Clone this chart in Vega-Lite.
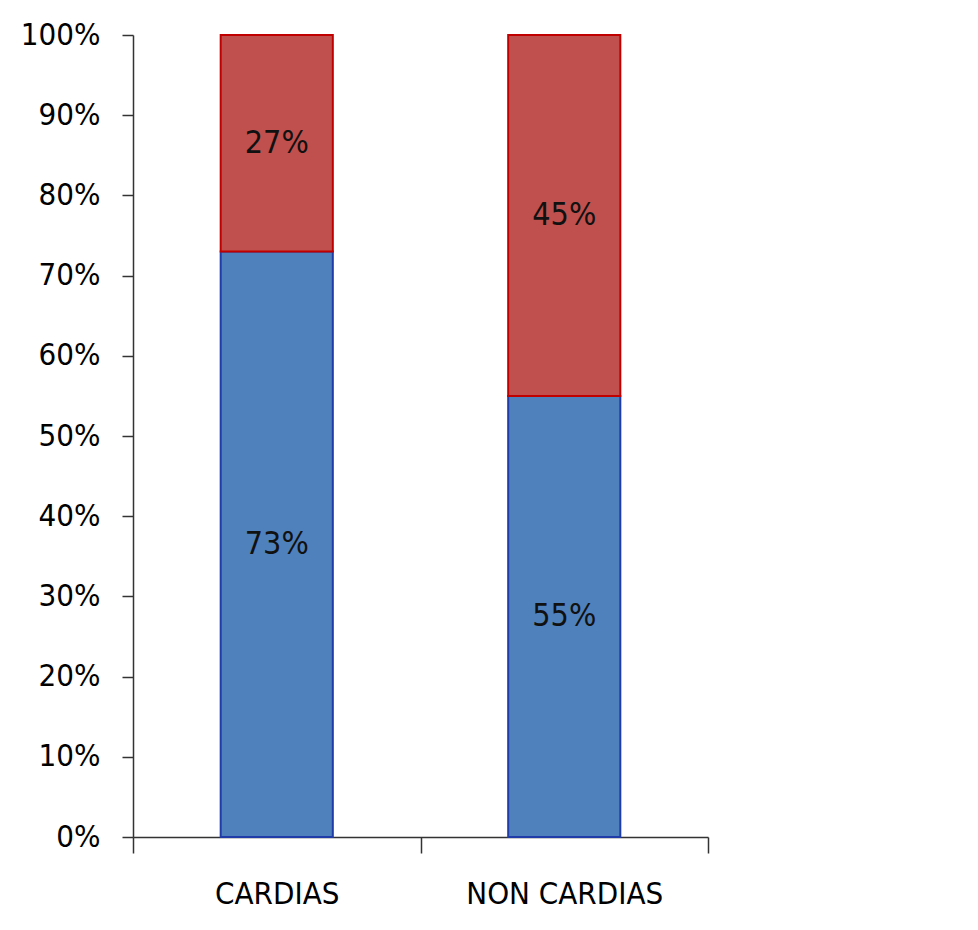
{
  "$schema": "https://vega.github.io/schema/vega-lite/v6.json",
  "autosize": {"type": "none"},
  "width": 575,
  "height": 802,
  "padding": {"left": 133, "top": 35, "right": 270, "bottom": 93},
  "background": "white",
  "config": {"view": {"stroke": null}, "font": "DejaVu Sans Condensed, Lato"},
  "data": {
    "values": [
      {"category": "CARDIAS", "series": "s1", "value": 73},
      {"category": "CARDIAS", "series": "s2", "value": 27},
      {"category": "NON CARDIAS", "series": "s1", "value": 55},
      {"category": "NON CARDIAS", "series": "s2", "value": 45}
    ]
  },
  "transform": [
    {"stack": "value", "groupby": ["category"], "sort": [{"field": "series", "order": "ascending"}], "as": ["v0", "v1"]},
    {"calculate": "(datum.v0 + datum.v1) / 2", "as": "mid"},
    {"calculate": "datum.value + '%'", "as": "label"}
  ],
  "encoding": {
    "x": {
      "field": "category",
      "type": "nominal",
      "sort": null,
      "scale": {"paddingInner": 0, "paddingOuter": 0},
      "axis": {
        "title": null,
        "labelAngle": 0,
        "labelFont": "DejaVu Sans Condensed, Lato",
        "labelFontSize": 31,
        "labelColor": "#000",
        "labelPadding": 26,
        "labelLimit": 0,
        "tickBand": "extent",
        "tickSize": 16,
        "tickColor": "#333",
        "tickWidth": 1.5,
        "domainColor": "#333",
        "domainWidth": 1.5,
        "grid": false
      }
    }
  },
  "layer": [
    {
      "mark": {"type": "bar", "strokeWidth": 2, "width": {"band": 0.39}},
      "encoding": {
        "y": {
          "field": "v0",
          "type": "quantitative",
          "scale": {"domain": [0, 100]},
          "axis": {
            "title": null,
            "values": [0, 10, 20, 30, 40, 50, 60, 70, 80, 90, 100],
            "labelExpr": "datum.value + '%'",
            "labelFont": "DejaVu Sans Condensed, Lato",
            "labelFontSize": 31,
            "labelColor": "#000",
            "labelPadding": 22,
            "tickSize": 11,
            "tickColor": "#333",
            "tickWidth": 1.5,
            "domainColor": "#333",
            "domainWidth": 1.5,
            "grid": false
          }
        },
        "y2": {"field": "v1"},
        "color": {
          "field": "series",
          "type": "nominal",
          "scale": {"domain": ["s1", "s2"], "range": ["#4F81BD", "#C0504D"]},
          "legend": null
        },
        "stroke": {
          "field": "series",
          "type": "nominal",
          "scale": {"domain": ["s1", "s2"], "range": ["#1F3CA8", "#C00000"]},
          "legend": null
        }
      }
    },
    {
      "mark": {"type": "text", "font": "DejaVu Sans Condensed, Lato", "fontSize": 32, "color": "#111", "baseline": "middle"},
      "encoding": {
        "y": {"field": "mid", "type": "quantitative"},
        "text": {"field": "label", "type": "nominal"},
        "detail": {"field": "series"}
      }
    }
  ]
}
